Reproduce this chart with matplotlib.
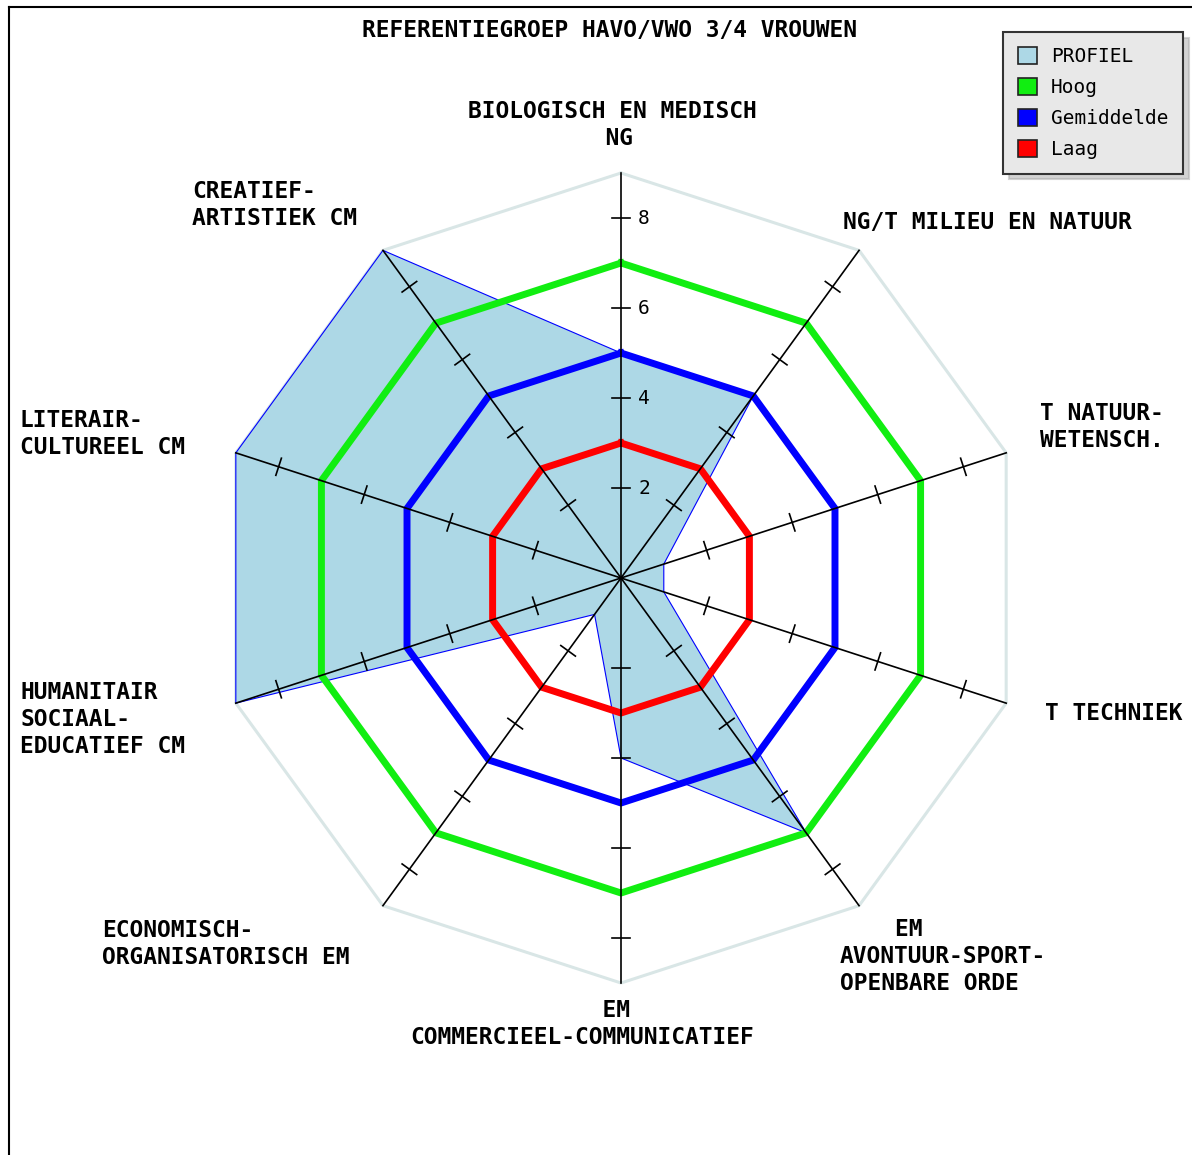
import matplotlib.pyplot as plt
import numpy as np
from matplotlib.patches import Patch
from matplotlib.lines import Line2D

# Data
categories = [
    "BIOLOGISCH EN MEDISCH\n          NG",
    "NG/T MILIEU EN NATUUR",
    "T NATUUR-\nWETENSCH.",
    "T TECHNIEK",
    "    EM\nAVONTUUR-SPORT-\nOPENBARE ORDE",
    "              EM\nCOMMERCIEEL-COMMUNICATIEF",
    "ECONOMISCH-\nORGANISATORISCH EM",
    "HUMANITAIR\nSOCIAAL-\nEDUCATIEF CM",
    "LITERAIR-\nCULTUREEL CM",
    "CREATIEF-\nARTISTIEK CM",
]
profiel = [5, 5, 1, 1, 7, 4, 1, 9, 9, 9]
hoog = [7, 7, 7, 7, 7, 7, 7, 7, 7, 7]
gemiddelde = [5, 5, 5, 5, 5, 5, 5, 5, 5, 5]
laag = [3, 3, 3, 3, 3, 3, 3, 3, 3, 3]
tick_values = [2, 4, 6, 8]
r_max = 9

title = "REFERENTIEGROEP HAVO/VWO 3/4 VROUWEN"

# label placement (pixels, left x / first line centre y)
label_pos = [(468, 111), (843, 221), (1040, 413), (1045, 712), (840, 930),
             (410, 1010), (102, 930), (20, 693), (20, 420), (192, 191)]
line_step = 26

W, H = 1192, 1155
cx, cy = 621, 578
scale = 45.0

fig = plt.figure(figsize=(W / 100, H / 100), dpi=100)
ax = fig.add_axes([0, 0, 1, 1])
ax.set_xlim(-cx / scale, (W - cx) / scale)
ax.set_ylim(-(H - cy) / scale, cy / scale)
ax.axis("off")

n = len(categories)
theta = 2 * np.pi * np.arange(n) / n


def xy(vals):
    vals = np.asarray(vals, dtype=float)
    x = vals * np.sin(theta)
    y = vals * np.cos(theta)
    return np.append(x, x[0]), np.append(y, y[0])


# outer decagon
ox, oy = xy([r_max] * n)
ax.plot(ox, oy, color="#d9e6e6", lw=2.2, zorder=1)

# profile
px, py = xy(profiel)
ax.fill(px, py, facecolor="#add8e6", edgecolor="#0000ff", lw=0.8, zorder=2)

for vals, col in [(hoog, "#11ee11"), (gemiddelde, "#0000ff"), (laag, "#ff0000")]:
    lx, ly = xy(vals)
    ax.plot(lx, ly, color=col, lw=5, zorder=3, solid_joinstyle="miter")

# axes and ticks
half = 9 / scale
for t in theta:
    ux, uy = np.sin(t), np.cos(t)
    ax.plot([0, r_max * ux], [0, r_max * uy], color="black", lw=1.2, zorder=4)
    for v in tick_values:
        bx, by = v * ux, v * uy
        ax.plot([bx - half * uy, bx + half * uy], [by + half * ux, by - half * ux],
                color="black", lw=1.2, zorder=4)

for v in tick_values:
    ax.text(17 / scale, v, str(v), fontsize=14, family="DejaVu Sans Mono",
            ha="left", va="center", zorder=5)

# category labels
for lab, (lx, ly) in zip(categories, label_pos):
    nl = lab.count("\n")
    fig.text(lx / W, 1 - (ly + 8 + nl * line_step) / H, lab, fontsize=16.5,
             family="DejaVu Sans Mono", weight="bold", ha="left", va="baseline",
             linespacing=1.22)

fig.text(609 / W, 1 - (29 + 8) / H, title, fontsize=16.5, family="DejaVu Sans Mono",
         weight="bold", ha="center", va="baseline")

# frame
fig.add_artist(Line2D([9 / W, 9 / W], [0, 1 - 7 / H], color="black", lw=1.5))
fig.add_artist(Line2D([9 / W, 1], [1 - 7 / H, 1 - 7 / H], color="black", lw=1.5))

# legend
handles = [Patch(facecolor="#add8e6", edgecolor="#222222", lw=1.2, label="PROFIEL"),
           Patch(facecolor="#11ee11", edgecolor="#222222", lw=1.2, label="Hoog"),
           Patch(facecolor="#0000ff", edgecolor="#222222", lw=1.2, label="Gemiddelde"),
           Patch(facecolor="#ff0000", edgecolor="#222222", lw=1.2, label="Laag")]
leg = fig.legend(handles=handles, loc="upper right", bbox_to_anchor=(1183 / W, 1 - 32 / H),
                 prop={"family": "DejaVu Sans Mono", "size": 14}, fancybox=False,
                 shadow={"ox": 4, "oy": -4, "color": "#a8a8a8"}, framealpha=1,
                 facecolor="#e8e8e8", edgecolor="#333333", handlelength=1.0,
                 handleheight=1.0, handletextpad=0.7, labelspacing=0.6,
                 borderpad=0.75, borderaxespad=0)
leg.get_frame().set_linewidth(1.5)

fig.savefig("out.png", dpi=100)
